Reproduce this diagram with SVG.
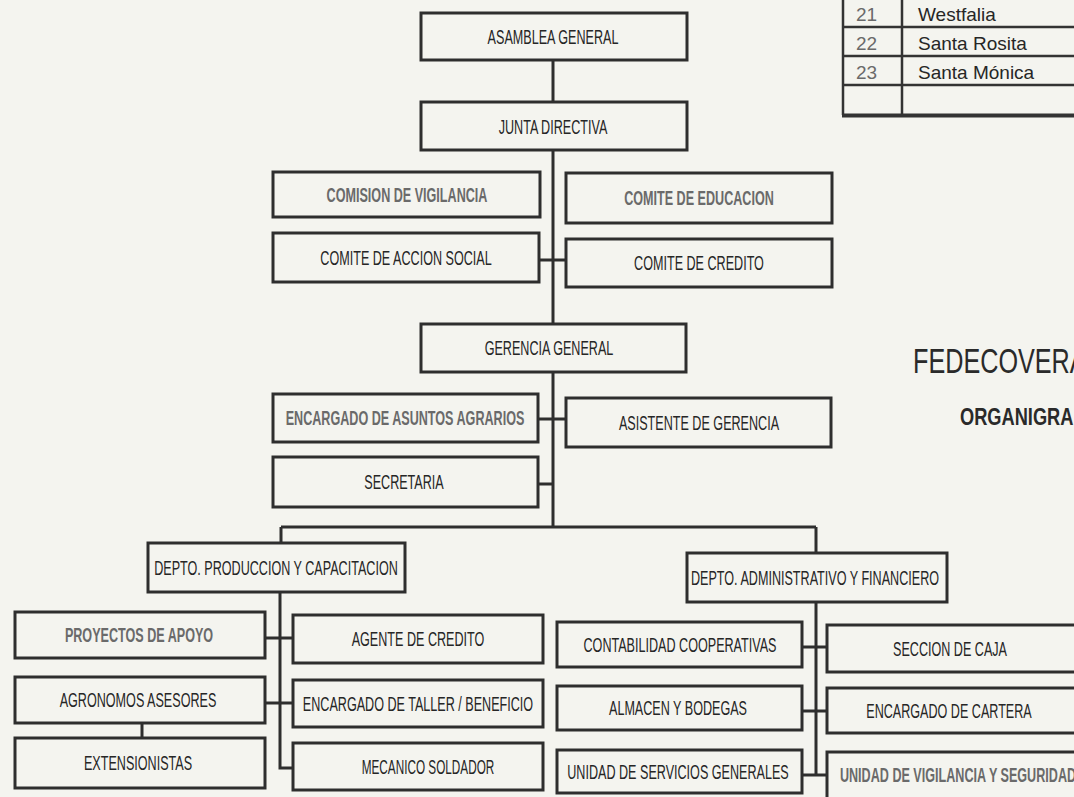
<svg xmlns="http://www.w3.org/2000/svg" width="1074" height="797" viewBox="0 0 1074 797">
<style>
.bg{fill:#f4f4ef}
.box{fill:#f4f4ef;stroke:#2e2e2e;stroke-width:3}
.t{font-family:"Liberation Sans",Arial,sans-serif;font-size:21px;fill:#262626;text-anchor:middle}
.g{font-weight:bold;fill:#6a6a6a}
.c{fill:none;stroke:#2e2e2e;stroke-width:3}
.tb{fill:none;stroke:#333;stroke-width:2.5}
.tt{font-family:"Liberation Sans",Arial,sans-serif;font-size:19px;fill:#262626}
.tn{fill:#6a6a6a}
.ti{font-family:"Liberation Sans",Arial,sans-serif;fill:#2a2a2a}
</style>
<rect class="bg" x="0" y="0" width="1074" height="797"/>

<g id="table">
<path class="tb" d="M843,-5 V115 M902,-5 V115 M843,27 H1080 M843,56 H1080 M843,85 H1080"/>
<path d="M842,115.5 H1080" stroke="#333" stroke-width="4"/>
<text class="tt tn" x="856" y="21">21</text><text class="tt" x="918" y="21">Westfalia</text>
<text class="tt tn" x="856" y="50">22</text><text class="tt" x="918" y="50">Santa Rosita</text>
<text class="tt tn" x="856" y="79">23</text><text class="tt" x="918" y="79">Santa Mónica</text>
</g>

<g id="title">
<text class="ti" font-size="36" transform="translate(913,373) scale(0.7,1)">FEDECOVERA</text>
<text class="ti" font-size="24" font-weight="bold" transform="translate(960,425) scale(0.76,1)">ORGANIGRAMA</text>
</g>

<g id="connectors">
<path class="c" d="M553,60 V102 M553,150 V324 M539,260 H566 M553,372 V527 M538,419 H566 M538,484 H553 M281,527 H816 M281,527 V543 M816,527 V553"/>
<path class="c" d="M280,592 V768 H293 M265,638 H293 M265,703 H293 M142,723 V738"/>
<path class="c" d="M816,602 V775 H827 M802,647 H827 M802,711 H827 M802,775 H816"/>
</g>

<g id="asamblea"><rect class="box" x="421" y="13" width="266" height="47"/><text class="t" transform="translate(553,44) scale(0.6,1)">ASAMBLEA GENERAL</text></g>
<g id="junta"><rect class="box" x="421" y="102" width="266" height="48"/><text class="t" transform="translate(553,134) scale(0.6,1)">JUNTA DIRECTIVA</text></g>
<g id="comision"><rect class="box" x="273" y="172" width="267" height="45"/><text class="t g" transform="translate(407,202) scale(0.6,1)">COMISION DE VIGILANCIA</text></g>
<g id="educacion"><rect class="box" x="566" y="173" width="266" height="50"/><text class="t g" transform="translate(699,205) scale(0.6,1)">COMITE DE EDUCACION</text></g>
<g id="accion"><rect class="box" x="273" y="233" width="266" height="49"/><text class="t" transform="translate(406,265) scale(0.6,1)">COMITE DE ACCION SOCIAL</text></g>
<g id="credito"><rect class="box" x="566" y="239" width="266" height="48"/><text class="t" transform="translate(699,270) scale(0.6,1)">COMITE DE CREDITO</text></g>
<g id="gerencia"><rect class="box" x="421" y="324" width="265" height="48"/><text class="t" transform="translate(549,355) scale(0.6,1)">GERENCIA GENERAL</text></g>
<g id="asuntos"><rect class="box" x="273" y="394" width="265" height="48"/><text class="t g" transform="translate(405,425) scale(0.6,1)">ENCARGADO DE ASUNTOS AGRARIOS</text></g>
<g id="asistente"><rect class="box" x="566" y="398" width="265" height="49"/><text class="t" transform="translate(699,430) scale(0.6,1)">ASISTENTE DE GERENCIA</text></g>
<g id="secretaria"><rect class="box" x="273" y="457" width="265" height="50"/><text class="t" transform="translate(404,489) scale(0.6,1)">SECRETARIA</text></g>
<g id="depto-produccion"><rect class="box" x="148" y="543" width="257" height="49"/><text class="t" transform="translate(276,575) scale(0.6,1)">DEPTO. PRODUCCION Y CAPACITACION</text></g>
<g id="depto-administrativo"><rect class="box" x="687" y="553" width="260" height="49"/><text class="t" transform="translate(815,585) scale(0.6,1)">DEPTO. ADMINISTRATIVO Y FINANCIERO</text></g>
<g id="proyectos"><rect class="box" x="15" y="612" width="250" height="46"/><text class="t g" transform="translate(139,642) scale(0.6,1)">PROYECTOS DE APOYO</text></g>
<g id="agronomos"><rect class="box" x="15" y="677" width="250" height="46"/><text class="t" transform="translate(138,707) scale(0.6,1)">AGRONOMOS ASESORES</text></g>
<g id="extensionistas"><rect class="box" x="15" y="738" width="250" height="50"/><text class="t" transform="translate(138,770) scale(0.6,1)">EXTENSIONISTAS</text></g>
<g id="agente"><rect class="box" x="293" y="615" width="250" height="48"/><text class="t" transform="translate(418,646) scale(0.6,1)">AGENTE DE CREDITO</text></g>
<g id="taller"><rect class="box" x="293" y="680" width="250" height="47"/><text class="t" transform="translate(418,711) scale(0.6,1)">ENCARGADO DE TALLER / BENEFICIO</text></g>
<g id="mecanico"><rect class="box" x="293" y="743" width="250" height="47"/><text class="t" transform="translate(428,774) scale(0.56,1)">MECANICO SOLDADOR</text></g>
<g id="contabilidad"><rect class="box" x="557" y="622" width="245" height="45"/><text class="t" transform="translate(680,652) scale(0.6,1)">CONTABILIDAD COOPERATIVAS</text></g>
<g id="caja"><rect class="box" x="827" y="625" width="260" height="47"/><text class="t" transform="translate(950,656) scale(0.6,1)">SECCION DE CAJA</text></g>
<g id="almacen"><rect class="box" x="557" y="686" width="245" height="44"/><text class="t" transform="translate(678,715) scale(0.6,1)">ALMACEN Y BODEGAS</text></g>
<g id="cartera"><rect class="box" x="827" y="688" width="260" height="45"/><text class="t" transform="translate(949,718) scale(0.6,1)">ENCARGADO DE CARTERA</text></g>
<g id="servicios"><rect class="box" x="557" y="750" width="245" height="43"/><text class="t" transform="translate(678,779) scale(0.6,1)">UNIDAD DE SERVICIOS GENERALES</text></g>
<g id="vigilancia"><rect class="box" x="827" y="752" width="260" height="50"/><text class="t g" transform="translate(958,782) scale(0.6,1)">UNIDAD DE VIGILANCIA Y SEGURIDAD</text></g>
</svg>
